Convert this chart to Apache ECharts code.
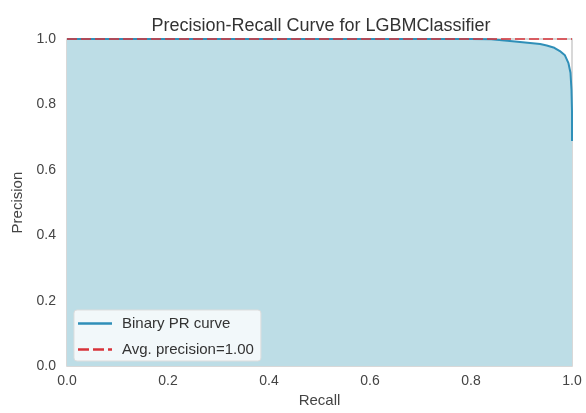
<!DOCTYPE html>
<html>
<head>
<meta charset="utf-8">
<script src="https://cdn.jsdelivr.net/npm/echarts@6/dist/echarts.min.js"></script>
<style>html,body{margin:0;padding:0;background:#fff;}#c{width:586px;height:413px;}</style>
</head>
<body>
<div id="c"></div>
<script>
const recall = [0, 0.2, 0.4, 0.6, 0.8, 0.84, 0.877, 0.917, 0.937, 0.95, 0.965, 0.976, 0.986, 0.993, 0.997, 0.999, 1.0, 1.0];
const precision = [1, 1, 1, 1, 1, 0.999, 0.994, 0.988, 0.985, 0.98, 0.973, 0.963, 0.95, 0.926, 0.897, 0.845, 0.78, 0.688];
const avgPrecision = 1.00;
const xTicks = [0, 0.2, 0.4, 0.6, 0.8, 1.0];
const yTicks = [0, 0.2, 0.4, 0.6, 0.8, 1.0];

const chart = echarts.init(document.getElementById('c'));
const curve = recall.map((r, i) => [r, precision[i]]);
const font = "'Liberation Sans', Arial, sans-serif";
const lineColor = '#2f8fb8';
const redColor = '#d8333a';
const apName = 'Avg. precision=' + avgPrecision.toFixed(2);
chart.setOption({
  animation: false,
  backgroundColor: '#ffffff',
  title: {
    text: 'Precision-Recall Curve for LGBMClassifier',
    left: 316, top: 12, textAlign: 'center',
    textStyle: { fontFamily: font, fontSize: 18, fontWeight: 'normal', color: '#333' }
  },
  grid: { left: 67, right: 14, top: 39, bottom: 44, show: true, borderColor: '#cccccc', borderWidth: 1.5, backgroundColor: 'transparent' },
  xAxis: {
    type: 'value', min: 0, max: 1, interval: 0.2,
    name: 'Recall', nameLocation: 'middle', nameGap: 25,
    nameTextStyle: { fontFamily: font, fontSize: 15, color: '#444' },
    axisLine: { show: false }, axisTick: { show: false }, splitLine: { show: false },
    axisLabel: { fontFamily: font, fontSize: 14, color: '#444', margin: 8,
      formatter: v => xTicks.find(t => Math.abs(t - v) < 1e-9).toFixed(1) }
  },
  yAxis: {
    type: 'value', min: 0, max: 1, interval: 0.2,
    name: 'Precision', nameLocation: 'middle', nameGap: 39,
    nameTextStyle: { fontFamily: font, fontSize: 15, color: '#444' },
    axisLine: { show: false }, axisTick: { show: false }, splitLine: { show: false },
    axisLabel: { fontFamily: font, fontSize: 14, color: '#444', margin: 11,
      formatter: v => yTicks.find(t => Math.abs(t - v) < 1e-9).toFixed(1) }
  },
  legend: {
    orient: 'vertical', left: 74, top: 310,
    backgroundColor: 'rgba(255,255,255,0.8)', borderColor: '#dddddd', borderWidth: 1, borderRadius: 3,
    padding: [6, 7, 4, 4], itemGap: 11, itemWidth: 34, itemHeight: 2.5,
    textStyle: { fontFamily: font, fontSize: 15, color: '#333', padding: [0, 0, 0, 5], lineHeight: 15 },
    data: [
      { name: 'Binary PR curve', icon: 'rect', itemStyle: { color: lineColor } },
      { name: apName, icon: 'path://M0,0h11v2.5h-11z M15,0h11v2.5h-11z M30,0h4v2.5h-4z', itemStyle: { color: redColor } }
    ]
  },
  series: [
    {
      name: 'Binary PR curve', type: 'line', data: curve, showSymbol: false, symbol: 'none',
      lineStyle: { color: lineColor, width: 2 }, itemStyle: { color: lineColor },
      areaStyle: { color: '#bddde6', opacity: 1 }, z: 2
    },
    {
      name: apName, type: 'line',
      data: [[0, avgPrecision], [1, avgPrecision]], showSymbol: false, symbol: 'none',
      lineStyle: { color: redColor, width: 2, type: [10, 4], opacity: 0.75 }, itemStyle: { color: redColor }, z: 3
    }
  ]
});
</script>
</body>
</html>
